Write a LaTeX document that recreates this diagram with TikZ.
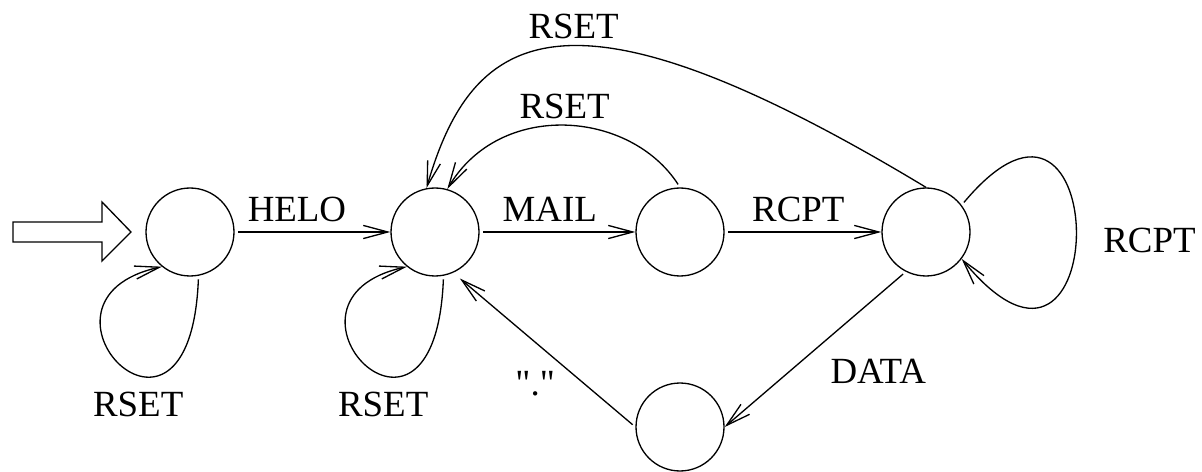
\documentclass[tikz,border=0pt]{standalone}
\usepackage{fontspec}
\setmainfont{Liberation Serif}
\usetikzlibrary{arrows.meta}
% straight double quote, kept out of the TeX ligature mapping
\newcommand\dquote{\XeTeXglyph\XeTeXcharglyph"22\relax}

\begin{document}
\begin{tikzpicture}[x=0.02cm, y=-0.02cm,
    state/.style={draw, circle, line width=0.75pt, minimum size=1.76cm, inner sep=0pt},
    trans/.style={-{Straight Barb[length=14pt, width=7.5pt]}, line width=0.75pt, shorten <=2pt},
    every node/.style={font=\fontsize{21}{25}\selectfont}]
    \useasboundingbox (0,0) rectangle (1202,472);

    % The states
    \node[state] (q0) at (190,232) {};
    \node[state] (q1) at (435,232) {};
    \node[state] (q2) at (680,232) {};
    \node[state] (q3) at (926,232) {};
    \node[state] (q4) at (680,427) {};

    % Start arrow (outlined)
    \draw[line width=0.75pt] (13,222) -- (102,222) -- (102,202) -- (131,232)
        -- (102,261) -- (102,242) -- (13,242) -- cycle;

    % Forward transitions
    \draw[trans] (q0) -- (q1) node[pos=0.4, above=2pt] {HELO};
    \draw[trans] (q1) -- (q2) node[pos=0.45, above=2pt] {MAIL};
    \draw[trans] (q2) -- (q3) node[pos=0.47, above=2pt] {RCPT};
    \draw[trans] (q3.243) -- (q4.east)
        node[pos=0.5, anchor=north west, xshift=5pt, yshift=-2pt] {DATA};
    \draw[trans, shorten >=5pt] (q4.west) -- (q1.-66)
        node[pos=0.55, below=13pt] {\dquote.\dquote};

    % Resets back to the second state
    \draw[trans] (q2.north) .. controls (630,110) and (500,100) .. (q1.74)
        node[pos=0.5, above] {RSET};
    \draw[trans, shorten <=0pt] (q3.90) .. controls (569,-28) and (473,27) .. (q1.101)
        node[pos=0.47, above] {RSET};

    % Self loops
    \draw[trans] (q0.-79) .. controls (190,490) and (10,300) .. (q0.231)
        node[pos=0.4, below=6pt] {RSET};
    \draw[trans] (q1.-79) .. controls (435,490) and (255,300) .. (q1.231)
        node[pos=0.4, below=6pt] {RSET};
    \draw[trans] (q3.37) .. controls (1114,23) and (1114,444) .. (q3.-37)
        node[pos=0.52, right=12pt] {RCPT};
\end{tikzpicture}
\end{document}
